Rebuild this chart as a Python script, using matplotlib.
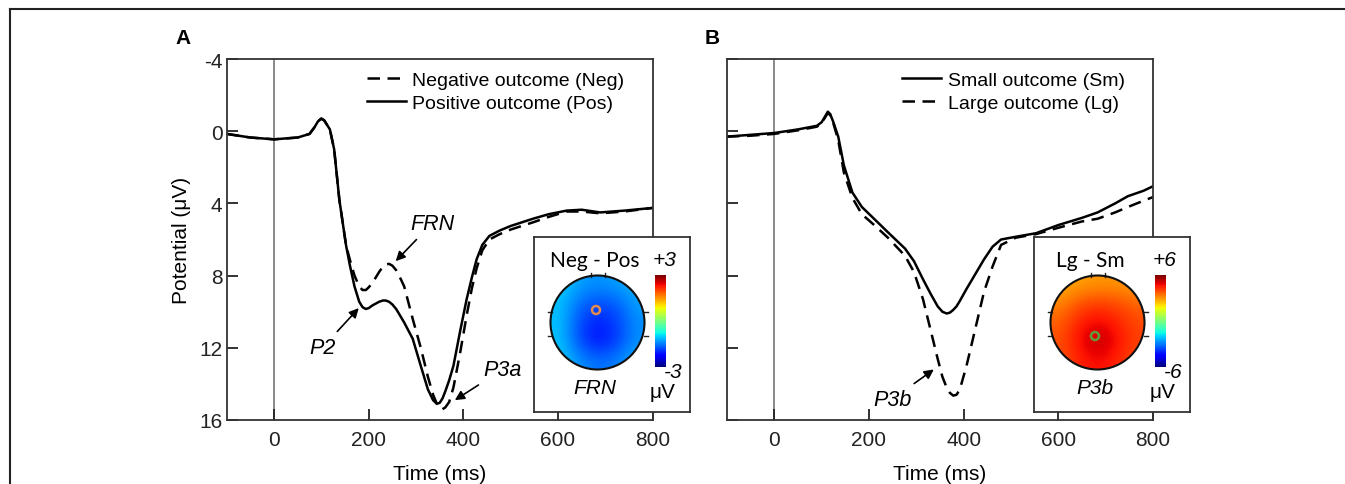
import numpy as np
import matplotlib.pyplot as plt
from matplotlib.patches import Circle
from matplotlib.lines import Line2D

plt.rcParams['font.family'] = ['Liberation Sans', 'DejaVu Sans']
plt.rcParams['axes.unicode_minus'] = False

# ---- panel A: negative vs positive outcome (uV)
t_a = [-100, -50, 0, 50, 75, 85, 93, 100, 106, 112, 118, 127, 138, 152, 160, 170, 180,
       187, 194, 200, 208, 215, 222, 230, 236, 243, 250, 258, 266, 275, 293, 310, 325,
       336, 344, 350, 356, 362, 370, 379, 393, 407, 418, 428, 440, 455, 477, 500, 547,
       580, 618, 650, 689, 740, 800]
pos = [0.15, 0.35, 0.45, 0.35, 0.15, -0.2, -0.55, -0.7, -0.6, -0.35, -0.1, 1.0, 3.8, 6.3,
       7.4, 8.6, 9.45, 9.75, 9.85, 9.8, 9.65, 9.55, 9.45, 9.38, 9.38, 9.45, 9.6, 9.85,
       10.2, 10.6, 11.5, 13.0, 14.3, 14.9, 15.1, 15.05, 14.8, 14.4, 13.8, 13.0, 11.1, 9.3,
       8.1, 7.1, 6.3, 5.8, 5.5, 5.25, 4.85, 4.6, 4.4, 4.35, 4.5, 4.4, 4.25]
neg = [0.15, 0.35, 0.45, 0.35, 0.15, -0.2, -0.55, -0.7, -0.6, -0.35, -0.1, 1.0, 3.8, 6.3,
       7.1, 8.0, 8.6, 8.8, 8.8, 8.65, 8.4, 8.1, 7.8, 7.5, 7.38, 7.35, 7.45, 7.7, 8.1, 8.6,
       10.4, 12.0, 13.6, 14.6, 15.1, 15.35, 15.4, 15.3, 15.0, 14.2, 12.3, 10.2, 8.7, 7.6,
       6.6, 6.0, 5.7, 5.45, 5.05, 4.75, 4.45, 4.45, 4.55, 4.45, 4.25]

# ---- panel B: small vs large outcome
t_b = [-100, -50, 0, 50, 90, 100, 108, 113, 118, 124, 135, 147, 165, 185, 211, 240, 276,
       295, 314, 330, 345, 355, 364, 371, 378, 385, 392, 406, 425, 443, 461, 479, 510,
       553, 600, 650, 683, 720, 747, 780, 800]
sm = [0.3, 0.2, 0.1, -0.1, -0.3, -0.5, -0.85, -1.08, -0.95, -0.55, 0.3, 1.9, 3.4, 4.2,
      4.86, 5.6, 6.5, 7.2, 8.2, 9.0, 9.7, 10.0, 10.1, 10.05, 9.9, 9.7, 9.4, 8.74, 7.9, 7.1,
      6.4, 6.0, 5.85, 5.65, 5.2, 4.8, 4.5, 4.0, 3.6, 3.3, 3.05]
lg = [0.3, 0.25, 0.15, -0.05, -0.25, -0.45, -0.8, -1.0, -0.9, -0.5, 0.5, 2.3, 3.7, 4.6,
      5.2, 5.9, 6.9, 7.8, 9.3, 11.0, 12.6, 13.6, 14.2, 14.5, 14.65, 14.6, 14.3, 13.0, 10.9,
      8.9, 7.5, 6.3, 5.9, 5.7, 5.35, 5.0, 4.85, 4.5, 4.2, 3.85, 3.65]

xticks = [0, 200, 400, 600, 800]
yticks = [-4, 0, 4, 8, 12, 16]

# topography grids (uV), rows top->bottom
topo_a = [[-1.0, -1.3, -1.4, -1.3, -1.2],
          [-1.1, -1.6, -1.8, -1.7, -1.3],
          [-1.1, -1.8, -2.1, -1.9, -1.4],
          [-1.1, -1.8, -2.2, -1.9, -1.4],
          [-1.0, -1.4, -1.6, -1.5, -1.2]]
topo_b = [[2.6, 2.9, 3.0, 3.0, 2.9],
          [3.2, 3.9, 4.1, 4.0, 3.6],
          [3.7, 4.5, 4.9, 4.5, 4.0],
          [3.9, 4.8, 5.4, 4.8, 4.1],
          [3.8, 4.5, 4.8, 4.5, 3.9]]

W, H = 1345, 485
fig = plt.figure(figsize=(W / 100, H / 100), dpi=100)

fig.add_artist(Line2D([10 / W, 1], [1 - 10 / H] * 2, color='#222222', lw=1.5))
fig.add_artist(Line2D([10 / W] * 2, [0, 1 - 10 / H], color='#222222', lw=1.5))


def px_axes(x0, y0, x1, y1):
    return fig.add_axes([x0 / W, 1 - y1 / H, (x1 - x0) / W, (y1 - y0) / H])


def panel(ax, t, s1, s2, lab1, lab2, style1, style2, ylabels):
    ax.axvline(0, color='#808080', lw=1.3, zorder=1)
    l1, = ax.plot(t, s1, color='black', lw=1.8, ls=style1, label=lab1)
    l2, = ax.plot(t, s2, color='black', lw=1.8, ls=style2, label=lab2)
    ax.set_xlim(-100, 800)
    ax.set_ylim(16, -4)
    ax.set_xticks(xticks)
    ax.set_yticks(yticks)
    if not ylabels:
        ax.set_yticklabels([])
    ax.tick_params(direction='in', length=8, width=1.3, labelsize=15, colors='#222222')
    ax.tick_params(axis='x', pad=7)
    ax.tick_params(axis='y', pad=3)
    for sp in ax.spines.values():
        sp.set_linewidth(1.3)
        sp.set_color('#333333')
    ax.set_xlabel('Time (ms)', fontsize=15, labelpad=11)
    leg = ax.legend(handles=[l1, l2], loc='upper right', bbox_to_anchor=(0.975, 1.015),
                    frameon=False, fontsize=14, handlelength=2.0, handletextpad=0.35,
                    labelspacing=0.3)
    return leg


def arrow(ax, txt, tip, pos):
    ax.annotate(txt, xy=tip, xytext=pos, fontsize=15.5, style='italic',
                ha='center', va='center',
                arrowprops=dict(arrowstyle='-|>', color='black', lw=1.2,
                                mutation_scale=14, shrinkA=3, shrinkB=0))


axA = px_axes(226.7, 60, 652.7, 421)
panel(axA, t_a, neg, pos, 'Negative outcome (Neg)', 'Positive outcome (Pos)',
      (0, (5, 3)), '-', True)
axA.set_ylabel('Potential (\u03bcV)', fontsize=15, labelpad=6)
arrow(axA, 'FRN', (257, 7.2), (334, 5.1))
arrow(axA, 'P2', (179, 9.8), (102, 12.0))
arrow(axA, 'P3a', (382, 14.9), (483, 13.2))

axB = px_axes(727, 60, 1153, 421)
panel(axB, t_b, sm, lg, 'Small outcome (Sm)', 'Large outcome (Lg)',
      '-', (0, (5, 3)), False)
arrow(axB, 'P3b', (337, 13.2), (249, 14.85))

fig.text(183 / W, 1 - 39 / H, 'A', fontsize=15, weight='bold', ha='center', va='center')
fig.text(712 / W, 1 - 39 / H, 'B', fontsize=15, weight='bold', ha='center', va='center')


def topo(x0, grid, vmax, ring_xy, ring_col, title, comp, title_x):
    ax = px_axes(x0, 238, x0 + 156, 413)
    ax.set_xlim(0, 156)
    ax.set_ylim(175, 0)
    ax.set_xticks([])
    ax.set_yticks([])
    for sp in ax.spines.values():
        sp.set_linewidth(1.3)
        sp.set_color('#333333')
    cx, cy, r = 63.5, 85.5, 47
    im = ax.imshow(grid, cmap='jet', vmin=-vmax, vmax=vmax, interpolation='bicubic',
                   extent=[cx - r, cx + r, cy + r, cy - r], zorder=2)
    head = Circle((cx, cy), r, transform=ax.transData, facecolor='none',
                  edgecolor='#111111', lw=1.5, zorder=4)
    im.set_clip_path(head)
    ax.add_patch(head)
    for yy in (75, 99):
        ax.plot([cx - r - 3, cx - r + 1], [yy, yy], color='#222222', lw=1, zorder=3)
        ax.plot([cx + r - 1, cx + r + 3], [yy, yy], color='#222222', lw=1, zorder=3)
    for xx in (cx - 7, cx + 7):
        ax.plot([xx, xx], [cy - r - 3, cy - r + 1], color='#222222', lw=1, zorder=3)
    ax.add_patch(Circle(ring_xy, 4, facecolor='none', edgecolor=ring_col, lw=1.8, zorder=5))
    grad = np.linspace(1, 0, 100)[:, None]
    ax.imshow(grad, cmap='jet', aspect='auto', extent=[121, 132, 130, 38], zorder=2)
    ax.text(title_x, 23, title, fontsize=15, family=['Lato', 'DejaVu Sans'],
            ha='center', va='center')
    ax.text(131, 23, '+%d' % vmax, fontsize=15, style='italic', ha='center', va='center')
    ax.text(139, 135, '-%d' % vmax, fontsize=15, style='italic', ha='center', va='center')
    ax.text(129, 155, '\u03bcV', fontsize=15, ha='center', va='center')
    ax.text(61, 151, comp, fontsize=15, style='italic', ha='center', va='center')


topo(534, topo_a, 3, (62, 73), '#e38a4e', 'Neg - Pos', 'FRN', 61)
topo(1034, topo_b, 6, (61, 99), '#5f9e3a', 'Lg - Sm', 'P3b', 56)

fig.savefig('out.png', dpi=100)
